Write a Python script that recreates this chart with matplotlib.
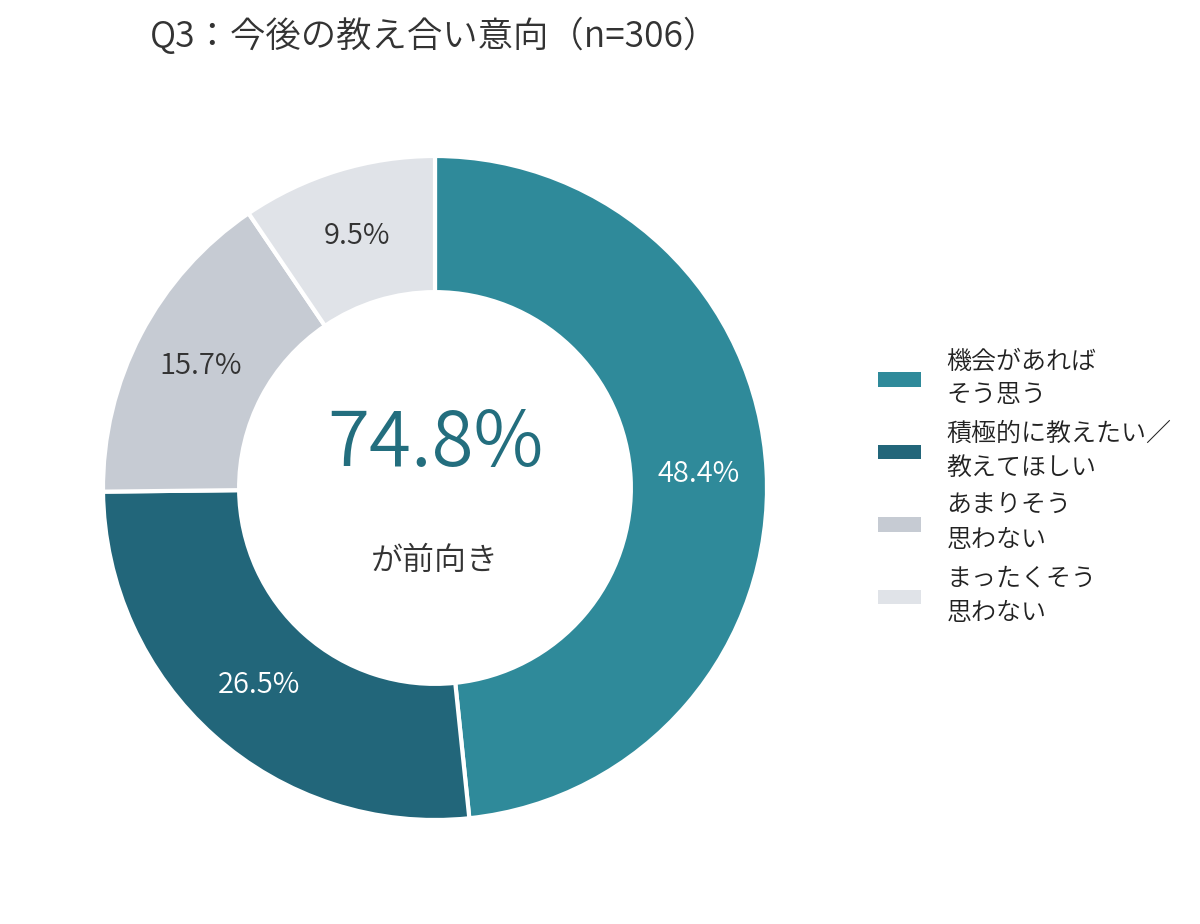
import matplotlib
matplotlib.use('Agg')
import matplotlib.pyplot as plt
from matplotlib.patches import Patch

plt.rcParams['font.family'] = ['Noto Sans CJK JP', 'DejaVu Sans']

# data
labels = ['機会があれば\nそう思う', '積極的に教えたい／\n教えてほしい', 'あまりそう\n思わない', 'まったくそう\n思わない']
values = [48.4, 26.5, 15.7, 9.5]
colors = ['#2f8a9a', '#22667a', '#c6cbd3', '#e0e3e8']
label_colors = ['white', 'white', '#333333', '#333333']
title = 'Q3：今後の教え合い意向（n=306）'
center_value = '74.8%'
center_text = 'が前向き'

fig = plt.figure(figsize=(12, 9.24), dpi=100)
ax = fig.add_axes([103 / 1200, 104 / 924, 664 / 1200, 664 / 924])

wedges, texts = ax.pie(values, startangle=90, counterclock=False, colors=colors,
                       radius=1.0, labels=[f'{v}%' for v in values],
                       labeldistance=0.795,
                       wedgeprops=dict(width=0.41, edgecolor='white', linewidth=3))
for t, c in zip(texts, label_colors):
    t.set_color(c)
    t.set_fontsize(21)
    t.set_fontweight(350)
    t.set_ha('center')
    t.set_va('center')

ax.set_xlim(-1, 1)
ax.set_ylim(-1, 1)
ax.set_aspect('equal')

ax.text(0, 0.13, center_value, ha='center', va='center', fontsize=55,
        color='#236e7e', fontweight=350)
ax.text(0, -0.22, center_text, ha='center', va='center', fontsize=23,
        color='#333333', fontweight=350)

fig.text(150 / 1200, 1 - 36 / 924, title, ha='left', va='center', fontsize=25.5,
         color='#333333', fontweight=350)

handles = [Patch(facecolor=c, edgecolor='none') for c in colors]
leg = fig.legend(handles, labels, loc='center left', bbox_to_anchor=(855 / 1200, 1 - 487 / 924),
                 frameon=False, fontsize=18, handlelength=1.75, handleheight=0.5,
                 handletextpad=1.0, labelspacing=0.5, labelcolor='#222222')
for t in leg.get_texts():
    t.set_linespacing(1.4)
    t.set_fontweight(350)

fig.savefig('out.png', dpi=100, facecolor='white')
